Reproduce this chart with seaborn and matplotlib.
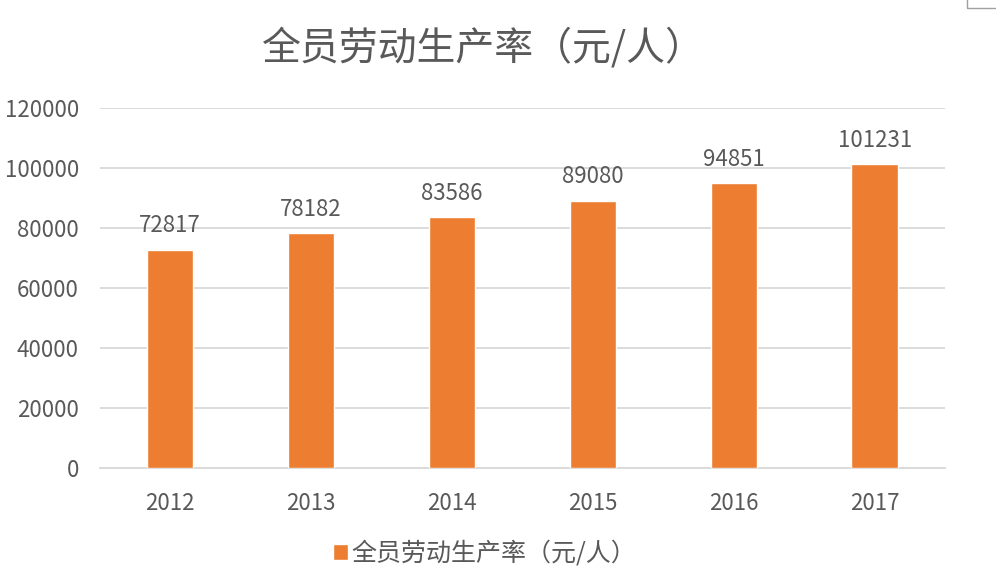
import matplotlib
matplotlib.use("Agg")
import matplotlib.pyplot as plt
import seaborn as sns
import pandas as pd
from matplotlib.patches import Rectangle

years = ["2012", "2013", "2014", "2015", "2016", "2017"]
values = [72817, 78182, 83586, 89080, 94851, 101231]
series_name = "全员劳动生产率（元/人）"
yticks = [0, 20000, 40000, 60000, 80000, 100000, 120000]

sns.set_theme(style="white")
plt.rcParams['font.family'] = ['Noto Sans CJK SC', 'DejaVu Sans']

text_color = "#595959"
bar_color = "#ED7D31"
grid_color = "#D9D9D9"

df = pd.DataFrame({"year": years, "value": values})

fig = plt.figure(figsize=(9.96, 5.70), dpi=100)
ax = fig.add_axes([0.100, 0.179, 0.849, 0.6315])

sns.barplot(data=df, x="year", y="value", color=bar_color, width=0.33,
            saturation=1, ax=ax, label=series_name, zorder=3)

ax.set_ylim(0, 120000)
ax.set_yticks(yticks)
ax.set_yticklabels([str(t) for t in yticks])
ax.yaxis.grid(True, color=grid_color, linewidth=1.3, zorder=0)
ax.set_axisbelow(True)
for s in ["top", "right", "left"]:
    ax.spines[s].set_visible(False)
ax.spines["bottom"].set_color(grid_color)
ax.spines["bottom"].set_linewidth(1.3)
ax.tick_params(axis="both", length=0, colors=text_color, labelsize=16)
ax.tick_params(axis="y", pad=15)
ax.tick_params(axis="x", pad=17)
ax.set_xlabel("")
ax.set_ylabel("")

for i, v in enumerate(values):
    ax.annotate(str(v), (i, v), xytext=(0, 9), textcoords="offset points",
                ha="center", va="bottom", fontsize=16, color=text_color)

fig.text(0.485, 0.915, series_name, ha="center", va="center",
         fontsize=28, color=text_color)

leg = ax.legend(loc="upper center", bbox_to_anchor=(0.455, -0.14), frameon=False,
                fontsize=18, handlelength=0.6, handleheight=0.6, handletextpad=0.15,
                labelcolor=text_color)

fig.patches.append(Rectangle((967/996, 1 - 8/570), 0.1, 0.1, transform=fig.transFigure,
                             fill=False, edgecolor="#A0A0A0", linewidth=1))

fig.savefig("out.png", dpi=100)
